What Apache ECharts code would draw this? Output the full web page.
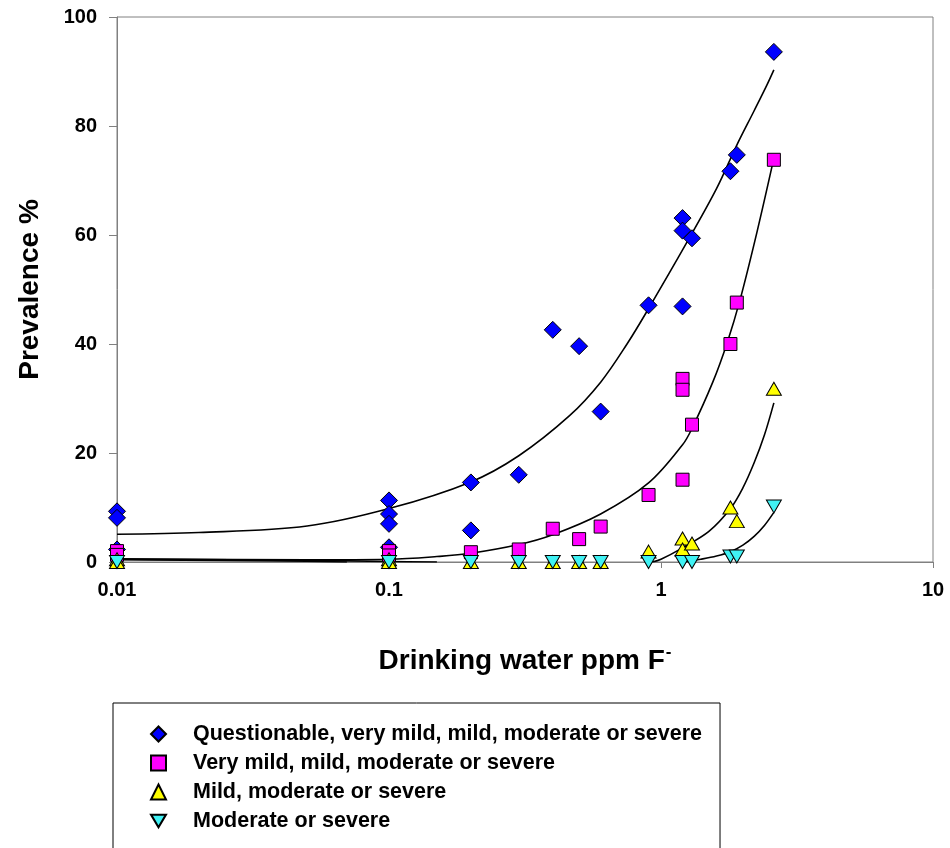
<!DOCTYPE html>
<html>
<head>
<meta charset="utf-8">
<title>Dental fluorosis prevalence vs drinking water fluoride</title>
<script src="https://cdn.jsdelivr.net/npm/echarts@6/dist/echarts.min.js"></script>
<style>
  html, body { margin: 0; padding: 0; background: #ffffff; }
  #chart { width: 950px; height: 848px; }
</style>
</head>
<body>
<div id="chart"></div>
<script>
// Fluoride concentration (ppm) and prevalence (%) for each severity grouping
const questionableX = [0.01, 0.01, 0.01, 0.1, 0.1, 0.1, 0.1, 0.2, 0.2, 0.3, 0.4, 0.5, 0.6, 0.9, 1.2, 1.2, 1.2, 1.3, 1.8, 1.9, 2.6];
const questionableY = [9.3, 8.1, 2.3, 11.3, 8.8, 7.0, 2.7, 14.6, 5.8, 16.0, 42.6, 39.6, 27.6, 47.1, 63.1, 60.8, 46.9, 59.4, 71.7, 74.7, 93.6];

const veryMildX = [0.01, 0.01, 0.1, 0.1, 0.2, 0.3, 0.4, 0.5, 0.6, 0.9, 1.2, 1.2, 1.2, 1.3, 1.8, 1.9, 2.6];
const veryMildY = [2.0, 1.3, 2.0, 1.2, 1.8, 2.3, 6.1, 4.2, 6.5, 12.3, 33.6, 31.6, 15.1, 25.2, 40.0, 47.6, 73.8];

const mildX = [0.01, 0.01, 0.1, 0.1, 0.2, 0.3, 0.4, 0.5, 0.6, 0.9, 1.2, 1.2, 1.3, 1.8, 1.9, 2.6];
const mildY = [0.5, 0, 0.5, 0, 0, 0, 0, 0, 0, 1.9, 4.3, 2.3, 3.4, 10.0, 7.5, 31.8];

const moderateX = [0.01, 0.1, 0.2, 0.3, 0.4, 0.5, 0.6, 0.9, 1.2, 1.3, 1.8, 1.9, 2.6];
const moderateY = [0, 0, 0, 0, 0, 0, 0, 0, 0, 0, 1.0, 1.0, 10.2];

// Fitted trend curves (null marks where a curve runs below the axis)
const trendQuestionableX = [0.01, 0.02, 0.05, 0.1, 0.2, 0.3, 0.46, 0.6, 0.75, 0.9, 1.24, 1.6, 1.9, 2.2, 2.45, 2.6];
const trendQuestionableY = [5.1, 5.4, 6.6, 9.8, 14.7, 19.5, 26.8, 33.0, 40.0, 46.5, 58.5, 68.5, 76.5, 82.8, 87.5, 90.3];

const trendVeryMildX = [0.01, 0.05, 0.1, 0.15, 0.2, 0.3, 0.4, 0.6, 0.9, 1.2, 1.3, 1.55, 1.75, 1.95, 2.25, 2.6];
const trendVeryMildY = [0.6, 0.4, 0.5, 1.0, 1.6, 3.2, 5.0, 8.8, 14.5, 21.5, 24.5, 33.0, 40.2, 48.0, 60.4, 74.1];

const trendMildX = [0.01, 0.05, 0.1, 0.15, null, 0.93, 1.0, 1.2, 1.5, 1.8, 2.0, 2.2, 2.4, 2.6];
const trendMildY = [0.5, 0.3, 0.1, 0, null, 0, 0.5, 2.6, 5.6, 9.8, 13.6, 18.2, 23.3, 29.2];

const trendModerateX = [0.01, 0.04, 0.07, null, 1.22, 1.4, 1.6, 1.8, 2.0, 2.2, 2.4, 2.6];
const trendModerateY = [0.4, 0.2, 0, null, 0, 0.5, 1.1, 1.9, 3.1, 4.7, 6.7, 9.1];

const seriesNames = [
  'Questionable, very mild, mild, moderate or severe',
  'Very mild, mild, moderate or severe',
  'Mild, moderate or severe',
  'Moderate or severe'
];
const xTickLabels = ['0.01', '0.1', '1', '10'];
const yTickLabels = ['0', '20', '40', '60', '80', '100'];

const FONT = '"Liberation Sans", Arial, sans-serif';

function pairs(xs, ys) {
  return xs.map((x, i) => [x, ys[i]]);
}

// split a curve into continuous pieces at null entries
function segments(xs, ys) {
  const out = [];
  let cur = [];
  xs.forEach((x, i) => {
    if (x === null) {
      if (cur.length) out.push(cur);
      cur = [];
    } else {
      cur.push([x, ys[i]]);
    }
  });
  if (cur.length) out.push(cur);
  return out;
}

const markerBase = { borderColor: '#000000', borderWidth: 1 };
const downTriangle = 'path://M0,0 L20,0 L10,17 Z';

const markerDefs = [
  { xs: questionableX, ys: questionableY, symbol: 'diamond', legendIcon: 'diamond', size: [17, 17], rotate: 0, color: '#0000FF' },
  { xs: veryMildX, ys: veryMildY, symbol: 'rect', legendIcon: 'rect', size: [13, 13], rotate: 0, color: '#FF00FF' },
  { xs: mildX, ys: mildY, symbol: 'triangle', legendIcon: 'triangle', size: [15, 13], rotate: 0, color: '#FFFF00' },
  { xs: moderateX, ys: moderateY, symbol: 'triangle', legendIcon: downTriangle, size: [15, 13], rotate: 180, color: '#40F2F4' }
];

const scatterSeries = markerDefs.map((s, i) => ({
  name: seriesNames[i],
  type: 'scatter',
  data: pairs(s.xs, s.ys),
  symbol: s.symbol,
  symbolSize: s.size,
  symbolRotate: s.rotate,
  clip: false,
  itemStyle: Object.assign({ color: s.color, opacity: 1 }, markerBase),
  z: 3
}));

const trendSeries = [];
[
  [trendQuestionableX, trendQuestionableY],
  [trendVeryMildX, trendVeryMildY],
  [trendMildX, trendMildY],
  [trendModerateX, trendModerateY]
].forEach(([xs, ys]) => {
  segments(xs, ys).forEach(seg => {
    trendSeries.push({
      type: 'line',
      data: seg,
      smooth: 0.35,
      symbol: 'none',
      silent: true,
      clip: true,
      lineStyle: { color: '#000000', width: 1.6 },
      z: 2
    });
  });
});

const chart = echarts.init(document.getElementById('chart'), null, { renderer: 'canvas' });

chart.setOption({
  animation: false,
  backgroundColor: '#ffffff',
  textStyle: { fontFamily: FONT },
  grid: {
    left: 117,
    right: 17,
    top: 17,
    bottom: 286,
    show: true,
    borderColor: '#808080',
    borderWidth: 1,
    backgroundColor: 'transparent'
  },
  xAxis: {
    type: 'log',
    logBase: 10,
    min: 0.01,
    max: 10,
    name: '{t|Drinking water ppm F}{s|-}',
    nameLocation: 'middle',
    nameGap: 82,
    nameTextStyle: {
      rich: {
        t: { fontFamily: FONT, fontSize: 28, fontWeight: 'bold', color: '#000000' },
        s: { fontFamily: FONT, fontSize: 17, fontWeight: 'bold', color: '#000000', padding: [0, 0, 17, 1] }
      }
    },
    axisLine: { show: true, lineStyle: { color: '#808080', width: 1 } },
    axisTick: { show: true, inside: false, length: 6, lineStyle: { color: '#808080' } },
    minorTick: { show: false },
    splitLine: { show: false },
    axisLabel: {
      margin: 18,
      fontFamily: FONT,
      fontSize: 20,
      fontWeight: 'bold',
      color: '#000000',
      formatter: v => xTickLabels[Math.round(Math.log10(v)) + 2]
    }
  },
  yAxis: {
    type: 'value',
    min: 0,
    max: 100,
    interval: 20,
    name: 'Prevalence %',
    nameLocation: 'middle',
    nameGap: 73,
    nameTextStyle: { fontFamily: FONT, fontSize: 28, fontWeight: 'bold', color: '#000000' },
    axisLine: { show: true, lineStyle: { color: '#808080', width: 1 } },
    axisTick: { show: true, inside: false, length: 8, lineStyle: { color: '#808080' } },
    splitLine: { show: false },
    axisLabel: {
      margin: 20,
      fontFamily: FONT,
      fontSize: 20,
      fontWeight: 'bold',
      color: '#000000',
      formatter: v => yTickLabels[Math.round(v / 20)]
    }
  },
  legend: {
    data: seriesNames.map((n, i) => ({ name: n, icon: markerDefs[i].legendIcon })),
    orient: 'vertical',
    left: 113,
    top: 703,
    height: 150,
    padding: [20, 18, 30, 37],
    itemGap: 7,
    itemWidth: 15,
    itemHeight: 15,
    borderColor: '#000000',
    borderWidth: 1,
    backgroundColor: '#ffffff',
    selectedMode: false,
    textStyle: {
      fontFamily: FONT,
      fontSize: 21.5,
      fontWeight: 'bold',
      color: '#000000',
      padding: [0, 0, 0, 22]
    }
  },
  series: trendSeries.concat(scatterSeries)
});
</script>
</body>
</html>
